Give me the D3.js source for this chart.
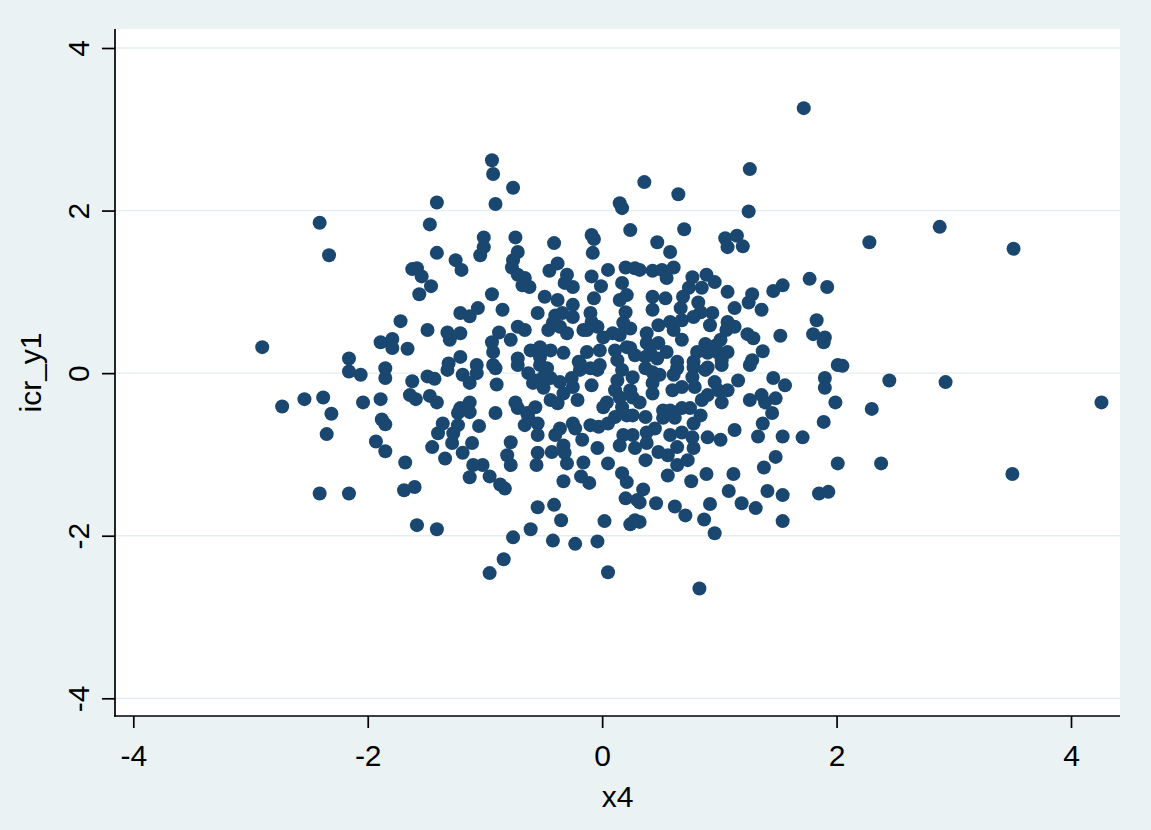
<!DOCTYPE html>
<html>
<head>
<meta charset="utf-8">
<script src="https://cdn.jsdelivr.net/npm/d3@7"></script>
<style>
    body { margin: 0; background: #eaf2f3; }
    svg { display: block; }
</style>
</head>
<body>
<svg id="chart"></svg>
<script>
// tick values and titles
const xTicks = [-4, -2, 0, 2, 4];
const yTicks = [-4, -2, 0, 2, 4];
const xTitle = "x4";
const yTitle = "icr_y1";

const obs = [
    // left side
    [-2.90,0.32],[-2.73,-0.41],[-2.54,-0.32],[-2.41,1.85],[-2.33,1.45],[-2.41,-1.48],[-2.38,-0.30],[-2.31,-0.50],[-2.35,-0.75],[-2.16,-1.48],
    [-2.16,0.02],[-2.06,-0.02],[-2.16,0.18],[-2.04,-0.36],[-1.93,-0.84],[-1.89,0.38],[-1.89,-0.32],[-1.85,0.06],[-1.85,-0.06],[-1.88,-0.57],
    [-1.85,-0.63],[-1.85,-0.96],[-1.79,0.42],[-1.79,0.31],[-1.72,0.64],[-1.68,-1.10],[-1.69,-1.44],[-1.60,-1.40],[-1.58,-1.87],[-1.66,0.30],
    [-1.62,1.28],[-1.58,1.29],[-1.54,1.19],[-1.56,0.97],[-1.62,-0.10],[-1.64,-0.27],[-1.59,-0.32],[-1.49,-0.04],[-1.43,-0.07],[-1.47,-0.28],
    [-1.41,-0.36],[-1.41,-1.92],[-1.47,1.83],[-1.41,2.10],[-1.41,1.48],[-1.46,1.07],[-1.49,0.53],[-1.45,-0.91],[-1.40,-0.74],
    // centre left, upper half
    [-0.94,2.62],[-0.93,2.45],[-0.76,2.28],[-0.91,2.08],[0.15,2.09],[0.17,2.03],[0.24,1.76],[-1.01,1.67],[-1.01,1.55],[-1.04,1.45],
    [-1.25,1.39],[-1.20,1.27],[-0.74,1.67],[-0.72,1.49],[-0.76,1.39],[-0.77,1.30],[-0.72,1.21],[-0.66,1.17],[-0.68,1.08],[-0.62,1.06],
    [-0.41,1.60],[-0.09,1.70],[-0.07,1.65],[-0.08,1.48],[-0.38,1.35],[-0.45,1.26],[-0.30,1.21],[-0.32,1.11],[-0.25,1.06],[-0.09,1.19],
    [-0.01,1.07],[0.05,1.27],[0.20,1.30],[0.28,1.29],[0.17,1.11],[0.21,0.96],[0.15,0.90],[0.20,0.75],[0.18,0.62],[-0.94,0.97],
    [-0.85,0.78],[-1.06,0.80],[-1.13,0.70],[-1.21,0.74],[-0.49,0.94],[-0.38,0.90],[-0.55,0.74],[-0.25,0.84],[-0.07,0.92],[-0.10,0.74],
    [-0.40,0.71],[-0.34,0.74],[-0.25,0.69],[-0.46,0.53],[-0.42,0.62],[-0.30,0.49],[-0.16,0.53],[-0.04,0.57],[0.01,0.44],[0.09,0.49],
    [-1.32,0.50],[-1.21,0.49],[-1.30,0.41],[-0.88,0.50],[-0.94,0.38],[-0.78,0.41],[-0.72,0.57],[-0.66,0.53],[-0.93,0.26],[-0.72,0.18],
    [-0.61,0.28],[-0.53,0.20],[-0.44,0.28],[-0.33,0.25],[-0.20,0.14],[-0.13,0.26],[-0.02,0.28],[0.13,0.16],[0.21,0.32],[0.28,0.22],
    [-1.21,0.20],[-1.07,0.10],[-0.93,0.10],[-1.31,0.12],
    [-0.36,0.57],[-0.09,0.63],[-0.13,0.53],[0.15,0.47],[0.24,0.55],[-0.53,0.32],[0.11,0.28],
    // centre left, lower half
    [-1.32,0.04],[-1.19,-0.02],[-1.13,-0.12],[-1.07,0.00],[-0.91,0.06],[-0.90,-0.14],[-0.72,0.10],[-0.63,0.00],[-0.55,-0.09],[-0.50,-0.18],
    [-0.44,-0.06],[-0.47,0.06],[-0.36,-0.11],[-0.26,-0.06],[-0.25,-0.17],[-0.19,0.04],[-0.09,-0.15],[-0.04,0.04],[0.13,-0.09],[0.17,0.04],
    [0.26,-0.05],[0.11,-0.21],[-0.44,-0.33],[-0.38,-0.37],[-0.21,-0.33],[-1.21,-0.43],[-1.13,-0.36],[-1.23,-0.49],[-1.13,-0.48],[-0.91,-0.49],
    [-0.74,-0.36],[-0.72,-0.43],[-0.64,-0.49],[-0.57,-0.42],[-0.63,-0.54],[0.04,-0.36],[0.01,-0.42],[0.17,-0.42],[0.26,-0.30],[0.21,-0.52],
    [0.26,-0.52],[-1.36,-0.62],[-1.23,-0.64],[-1.05,-0.65],[-1.27,-0.74],[-1.28,-0.86],[-1.11,-0.86],[-1.19,-0.98],[-1.34,-1.05],[-0.66,-0.64],
    [-0.55,-0.62],[-0.55,-0.76],[-0.40,-0.76],[-0.36,-0.68],[-0.25,-0.62],[-0.23,-0.68],[-0.10,-0.64],[-0.03,-0.66],[0.05,-0.62],[0.11,-0.54],
    [0.18,-0.76],[0.26,-0.76],[0.15,-0.89],[0.28,-0.92],[-0.78,-0.85],[-0.81,-1.01],[-0.78,-1.13],[-0.55,-0.98],[-0.43,-0.97],[-0.33,-0.89],
    [-0.32,-0.98],[-0.30,-1.11],[-0.17,-0.82],[-0.04,-0.92],[-0.16,-1.10],[0.05,-1.11],[-0.56,-1.13],[-1.10,-1.13],[-1.02,-1.13],[-1.13,-1.28],
    [-0.96,-1.27],[-0.87,-1.37],[-0.83,-1.42],[-0.33,-1.33],[-0.18,-1.27],[-0.11,-1.35],[0.17,-1.23],[0.21,-1.34],[0.20,-1.54],[0.30,-1.56],
    [-0.55,-1.65],[-0.41,-1.62],[-0.35,-1.81],[0.02,-1.82],[0.24,-1.86],[0.28,-1.81],[-0.61,-1.92],[-0.76,-2.02],[-0.42,-2.06],[-0.23,-2.10],
    [-0.04,-2.07],[-0.84,-2.29],[-0.96,-2.46],[0.05,-2.45],
    [-0.53,0.10],[-0.50,-0.05],[-0.19,0.12],[-0.10,0.06],[-0.02,0.10],[-0.59,-0.12],[-0.33,-0.25],[0.15,-0.30],
    // centre right, upper half
    [1.72,3.26],[1.26,2.51],[0.36,2.35],[0.65,2.20],[1.25,1.99],[0.70,1.77],[0.47,1.61],[0.58,1.49],[1.05,1.66],[1.15,1.69],
    [1.07,1.55],[1.20,1.56],[0.32,1.27],[0.43,1.26],[0.51,1.27],[0.61,1.30],[0.55,1.17],[0.77,1.18],[0.89,1.21],[0.96,1.12],
    [0.74,1.05],[0.85,1.05],[1.07,1.00],[1.77,1.16],[1.92,1.06],[1.54,1.08],[1.46,1.01],[1.28,0.97],[1.25,0.87],[1.36,0.78],
    [1.13,0.80],[0.43,0.94],[0.54,0.92],[0.43,0.78],[0.69,0.94],[0.82,0.87],[0.67,0.80],[0.84,0.75],[0.94,0.74],[0.78,0.69],
    [0.92,0.59],[1.07,0.63],[1.13,0.57],[1.06,0.53],[1.83,0.65],[1.80,0.48],[1.90,0.44],[1.89,0.38],[1.52,0.46],[1.24,0.48],
    [1.29,0.43],[1.37,0.27],[1.28,0.16],[1.01,0.41],[0.97,0.34],[0.88,0.36],[0.81,0.26],[0.90,0.25],[0.78,0.14],[0.90,0.07],
    [1.02,0.16],[1.07,0.26],[0.68,0.41],[0.61,0.53],[0.48,0.59],[0.38,0.49],[0.38,0.37],[0.48,0.37],[0.55,0.26],[0.64,0.14],
    [0.47,0.18],[0.37,0.20],[2.01,0.10],
    [0.58,0.63],[0.68,0.65],[0.24,0.31],[0.41,0.26],[0.99,0.25],
    // centre right, lower half
    [0.37,0.06],[0.43,0.01],[0.49,-0.02],[0.61,-0.02],[0.64,0.06],[0.78,0.07],[0.88,0.04],[1.02,0.10],[1.26,0.10],[0.43,-0.12],
    [0.43,-0.25],[0.60,-0.21],[0.68,-0.17],[0.79,-0.17],[0.77,-0.05],[0.96,-0.11],[1.16,-0.09],[1.07,-0.21],[0.90,-0.27],[1.02,-0.36],
    [0.85,-0.33],[1.26,-0.33],[1.36,-0.27],[1.48,-0.31],[1.39,-0.36],[1.46,-0.06],[1.56,-0.15],[1.90,-0.06],[1.90,-0.18],[1.99,-0.36],
    [1.45,-0.49],[1.37,-0.62],[1.33,-0.78],[1.54,-0.78],[1.71,-0.79],[1.89,-0.60],[1.13,-0.70],[1.01,-0.82],[0.90,-0.79],[0.32,-0.36],
    [0.37,-0.54],[0.58,-0.46],[0.68,-0.43],[0.75,-0.43],[0.84,-0.52],[0.52,-0.55],[0.62,-0.55],[0.78,-0.62],[0.45,-0.68],[0.38,-0.73],
    [0.58,-0.76],[0.68,-0.73],[0.77,-0.79],[0.38,-0.86],[0.64,-0.91],[0.78,-0.92],[0.48,-0.97],[0.56,-1.01],[0.37,-1.07],[0.64,-1.13],
    [0.73,-1.07],[0.56,-1.26],[0.76,-1.33],[0.89,-1.24],[1.12,-1.24],[1.38,-1.16],[1.48,-1.03],[2.01,-1.11],[0.35,-1.43],[0.32,-1.59],
    [0.46,-1.60],[0.62,-1.64],[0.71,-1.75],[0.87,-1.80],[0.92,-1.61],[0.96,-1.97],[1.08,-1.45],[1.19,-1.60],[1.31,-1.66],[1.41,-1.45],
    [1.54,-1.50],[1.54,-1.82],[1.85,-1.48],[1.93,-1.46],[0.32,-1.83],[0.83,-2.65],
    [0.24,-0.21],[0.99,-0.21],[0.52,-0.46],
    // right side
    [2.28,1.61],[2.88,1.80],[3.51,1.53],[2.05,0.09],[2.45,-0.09],[2.93,-0.11],[4.26,-0.36],[2.30,-0.44],[2.38,-1.11],[3.50,-1.24]
];

const width = 1151, height = 830;
// plot region (white area)
const region = {left: 115, right: 1120, top: 29, bottom: 716};
const font = "'Liberation Sans', Arial, Helvetica, sans-serif";

const svg = d3.select('#chart').attr('width', width).attr('height', height);

svg.append('rect')
    .attr('width', width).attr('height', height)
    .attr('fill', '#eaf2f3');
svg.append('rect')
    .attr('x', region.left).attr('y', region.top)
    .attr('width', region.right - region.left)
    .attr('height', region.bottom - region.top)
    .attr('fill', '#ffffff');

const x = d3.scaleLinear().domain([-4, 4]).range([133.3, 1071]);
const y = d3.scaleLinear().domain([-4, 4]).range([698.3, 48]);

// horizontal gridlines
svg.append('g')
    .selectAll('line')
    .data(yTicks)
    .join('line')
    .attr('x1', region.left).attr('x2', region.right)
    .attr('y1', d => y(d)).attr('y2', d => y(d))
    .attr('stroke', '#e4eef0')
    .attr('stroke-width', 1.3);

// markers
svg.append('g')
    .selectAll('circle')
    .data(obs)
    .join('circle')
    .attr('cx', d => x(d[0]))
    .attr('cy', d => y(d[1]))
    .attr('r', 7)
    .attr('fill', '#1a476f');

// x axis
const gx = svg.append('g')
    .attr('transform', `translate(0,${region.bottom})`)
    .call(d3.axisBottom(x).tickValues(xTicks).tickFormat(d => String(d))
        .tickSize(12).tickPadding(17));
gx.select('.domain').remove();
gx.selectAll('.tick line').attr('stroke', '#000').attr('stroke-width', 1.7);
gx.selectAll('.tick text')
    .attr('fill', '#000')
    .style('font-family', font).style('font-size', '30px');

// y axis, labels turned on their side
const gy = svg.append('g')
    .attr('transform', `translate(${region.left},0)`)
    .call(d3.axisLeft(y).tickValues(yTicks).tickFormat(d => String(d))
        .tickSize(13));
gy.select('.domain').remove();
gy.selectAll('.tick line').attr('stroke', '#000').attr('stroke-width', 1.7);
gy.selectAll('.tick text')
    .attr('x', 0).attr('dy', 0)
    .attr('text-anchor', 'middle')
    .attr('transform', 'translate(-26,0) rotate(-90)')
    .attr('fill', '#000')
    .style('font-family', font).style('font-size', '30px');

// axis lines
svg.append('line')
    .attr('x1', region.left).attr('x2', region.left)
    .attr('y1', region.top).attr('y2', region.bottom + 0.85)
    .attr('stroke', '#000').attr('stroke-width', 1.7);
svg.append('line')
    .attr('x1', region.left - 0.85).attr('x2', region.right)
    .attr('y1', region.bottom).attr('y2', region.bottom)
    .attr('stroke', '#000').attr('stroke-width', 1.7);

// axis titles
svg.append('text')
    .attr('x', (region.left + region.right) / 2)
    .attr('y', 807)
    .attr('text-anchor', 'middle')
    .style('font-family', font).style('font-size', '30px')
    .text(xTitle);
svg.append('text')
    .attr('transform', `translate(41,${(region.top + region.bottom) / 2}) rotate(-90)`)
    .attr('text-anchor', 'middle')
    .style('font-family', font).style('font-size', '30px')
    .text(yTitle);
</script>
</body>
</html>
